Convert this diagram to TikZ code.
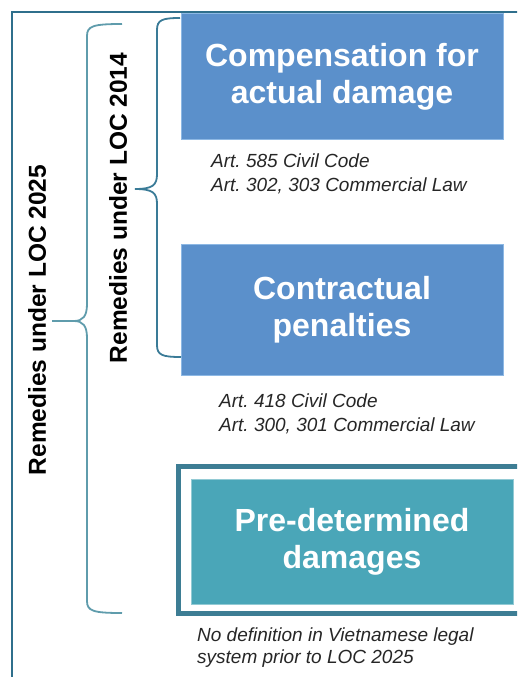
\documentclass[tikz,border=0pt]{standalone}
\usepackage{fontspec}
\setmainfont{Liberation Sans}
\usepackage{tikz}
\frenchspacing

\definecolor{boxblue}{HTML}{5B90CB}
\definecolor{boxedge}{HTML}{8DB8E4}
\definecolor{boxteal}{HTML}{4AA6B8}
\definecolor{frameteal}{HTML}{3D7D94}
\definecolor{linedark}{HTML}{2F6F8C}
\definecolor{bracedark}{HTML}{3A7B97}
\definecolor{bracelight}{HTML}{5F9CAC}
\definecolor{notegray}{HTML}{262626}

\tikzset{
  remedy/.style={rectangle, draw=boxedge, line width=1pt, fill=boxblue, text=white,
    minimum width=322, minimum height=125, align=center,
    font=\fontsize{32}{37}\selectfont\bfseries},
  note/.style={anchor=north west, inner sep=0pt, align=left, text=notegray,
    font=\fontsize{19}{24}\selectfont\itshape},
  sidelabel/.style={rotate=90, font=\fontsize{24.5}{28}\selectfont\bfseries}
}

\begin{document}
\begin{tikzpicture}[x=1pt, y=-1pt]
\useasboundingbox (0,0) rectangle (517,677);
\clip (0,0) rectangle (517,677);

% outer frame, cut by the page
\draw[linedark, line width=2.2pt] (12,700) -- (12,12) -- (540,12);

\draw
(342, 76.5) node[remedy](b1){Compensation for\\actual damage}
(342, 309.5) node[remedy, minimum height=131](b2){Contractual\\penalties}
(352, 541.5) node[remedy, fill=boxteal, draw=boxteal!60!white](b3){Pre-determined\\damages};

\draw[frameteal, line width=5pt] (540,466.5) -- (178.5,466.5) -- (178.5,613.5) -- (540,613.5);

\draw
(211, 154) node[note](a1){Art. 585 Civil Code\\Art. 302, 303 Commercial Law}
(219, 394) node[note](a2){Art. 418 Civil Code\\Art. 300, 301 Commercial Law}
(197, 628) node[note, font=\fontsize{19}{21.5}\selectfont\itshape](a3){No definition in Vietnamese legal\\system prior to LOC 2025};

\draw
(118, 208) node[sidelabel](l14){Remedies under LOC 2014}
(37, 320) node[sidelabel](l25){Remedies under LOC 2025};

% braces
\coordinate (t14) at (180,18);
\coordinate (p14) at (135,189);
\coordinate (e14) at (181,357);
\coordinate (t25) at (122,24);
\coordinate (p25) at (52,321);
\coordinate (e25) at (122,613);

\draw[bracedark, line width=1.8pt]
(t14) .. controls (162,18) and (157,20) .. (157,30) -- (157,174)
.. controls (157,185) and (153,189) .. (p14)
.. controls (153,189) and (157,193) .. (157,204) -- (157,345)
.. controls (157,355) and (162,357) .. (e14);
\draw[bracelight, line width=1.8pt]
(t25) .. controls (93,24) and (87,26) .. (87,36) -- (87,304)
.. controls (87,316) and (83,321) .. (74,321) -- (p25) -- (74,321)
.. controls (83,321) and (87,326) .. (87,338) -- (87,601)
.. controls (87,611) and (93,613) .. (e25);

\end{tikzpicture}
\end{document}
